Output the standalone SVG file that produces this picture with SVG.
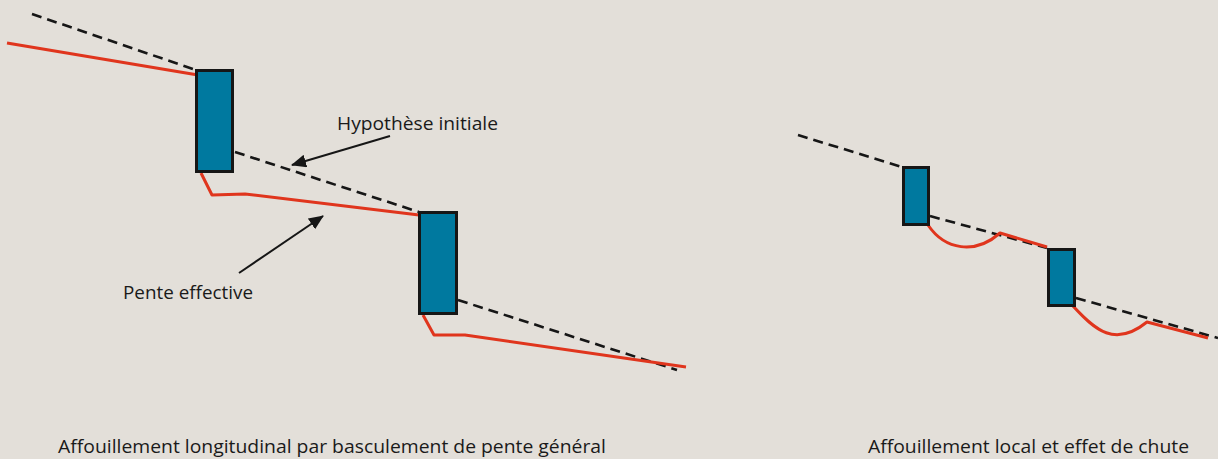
<svg xmlns="http://www.w3.org/2000/svg" width="1218" height="459" viewBox="0 0 1218 459">
<defs>
<style>
.bg{fill:#e3dfd9}
.dash{fill:none;stroke:#161616;stroke-width:2.6;stroke-dasharray:10 6}
.red{fill:none;stroke:#e0351d;stroke-width:3;stroke-linejoin:round}
.pier{fill:#00799f;stroke:#161616;stroke-width:3}
.lead{fill:none;stroke:#161616;stroke-width:2}
.lbl{font-family:"Open Sans","Noto Sans",sans-serif;font-size:19px;fill:#1a1a1a}
</style>
<marker id="ah2" viewBox="0 0 15 13" refX="14" refY="6.5" markerWidth="15" markerHeight="13" markerUnits="userSpaceOnUse" orient="auto">
<path d="M0,0 L15,6.5 L0,13 z" fill="#161616"/>
</marker>
</defs>
<rect class="bg" x="0" y="0" width="1218" height="459"/>
<g id="connectors">
<path class="dash" d="M32,14 L196,70"/>
<path class="dash" d="M235,152 L419,212"/>
<path class="dash" d="M458,300 L677,370"/>
<path class="red" d="M7,43 L198,75"/>
<path class="red" d="M201,173 L212,195 L245,194 L419,215"/>
<path class="red" d="M423,315 L434,335 L465,335 L686,367"/>
<path class="dash" d="M798,135 L902,167"/>
<path class="dash" d="M930,216 L1047,248"/>
<path class="dash" d="M1076,298 L1218,338"/>
<path class="red" d="M928,225 C945,250 975,255 1000,233 L1047,247"/>
<path class="red" d="M1073,306 C1095,330 1115,348 1147,322 L1208,338"/>
<path class="lead" d="M390,136 L292,165" marker-end="url(#ah2)"/>
<path class="lead" d="M239,273 L323,216" marker-end="url(#ah2)"/>
</g>
<g id="pier1"><rect class="pier" x="196.5" y="70.5" width="36" height="101"/></g>
<g id="pier2"><rect class="pier" x="419.5" y="212.5" width="37" height="101"/></g>
<g id="pier3"><rect class="pier" x="903.5" y="167.5" width="25" height="57"/></g>
<g id="pier4"><rect class="pier" x="1048.5" y="249.5" width="26" height="56"/></g>
<g id="labels">
<text class="lbl" x="337" y="130" textLength="161" lengthAdjust="spacingAndGlyphs">Hypothèse initiale</text>
<text class="lbl" x="123" y="299" textLength="130" lengthAdjust="spacingAndGlyphs">Pente effective</text>
<text class="lbl" x="58" y="453" textLength="548" lengthAdjust="spacingAndGlyphs">Affouillement longitudinal par basculement de pente général</text>
<text class="lbl" x="868" y="453" textLength="321" lengthAdjust="spacingAndGlyphs">Affouillement local et effet de chute</text>
</g>
</svg>
